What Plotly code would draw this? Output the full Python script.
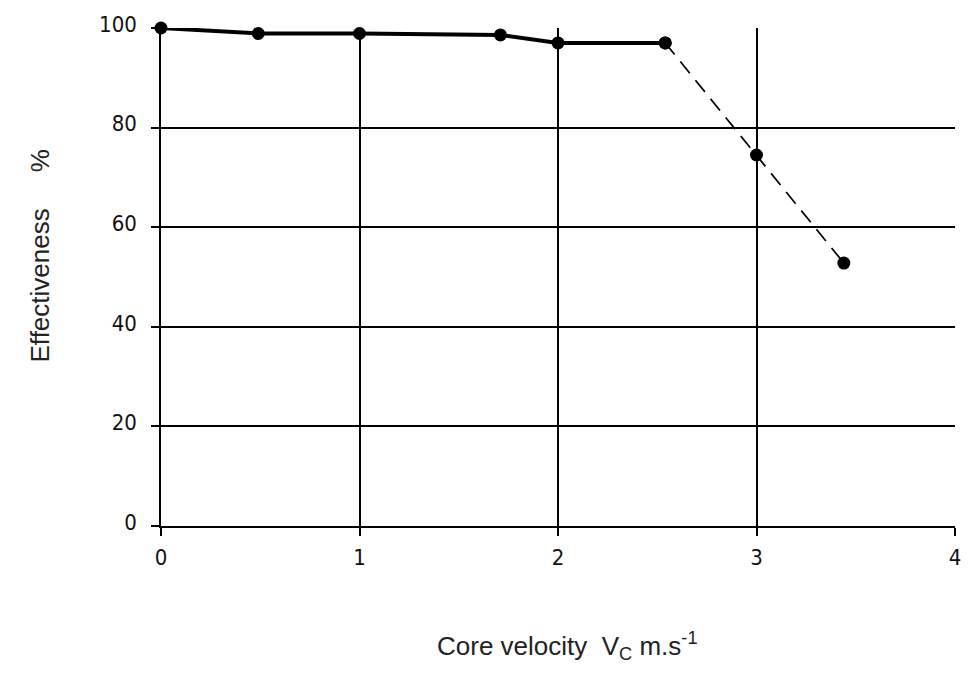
import plotly.graph_objects as go

solid_x = [0, 0.49, 1.0, 1.71, 2.0, 2.54]
solid_y = [100, 98.9, 98.9, 98.6, 97.0, 97.0]
dash_x = [2.54, 3.0, 3.44]
dash_y = [97.0, 74.5, 52.8]
x_ticks = [0, 1, 2, 3, 4]
y_ticks = [0, 20, 40, 60, 80, 100]

tick_font = dict(family="Liberation Sans Narrow, DejaVu Sans Condensed, sans-serif", size=22, color="#111")
title_font = dict(family="Liberation Sans, Arial, sans-serif", size=26, color="#222")

fig = go.Figure()
fig.add_trace(go.Scatter(x=dash_x, y=dash_y, mode="lines+markers", cliponaxis=False,
                         line=dict(color="black", width=1.7, dash="15px,9px"),
                         marker=dict(size=13, color="black"), showlegend=False))
fig.add_trace(go.Scatter(x=solid_x, y=solid_y, mode="lines+markers", cliponaxis=False,
                         line=dict(color="black", width=4),
                         marker=dict(size=13, color="black"), showlegend=False))

fig.update_xaxes(range=[0, 4], tickvals=x_ticks, ticktext=[str(v) for v in x_ticks],
                 showgrid=True, gridcolor="black", gridwidth=1.5,
                 showline=True, linecolor="black", linewidth=1.5, mirror=False,
                 ticks="outside", ticklen=8, tickwidth=1.5, tickcolor="black",
                 tickfont=tick_font, ticklabelstandoff=3, zeroline=False)
fig.update_yaxes(range=[0, 100], tickvals=y_ticks, ticktext=[str(v) for v in y_ticks],
                 showgrid=True, gridcolor="black", gridwidth=1.5,
                 showline=True, linecolor="black", linewidth=1.5,
                 ticks="outside", ticklen=8, tickwidth=1.5, tickcolor="black",
                 tickfont=tick_font, ticklabelstandoff=10, ticklabelshift=-4, zeroline=False)

fig.add_annotation(text="Core velocity  V<sub>C</sub> m.s<sup>-1</sup>", xref="paper", yref="paper",
                   x=(570 - 161) / 798, y=-(667 - 526.5) / 498.5, showarrow=False,
                   font=title_font)
fig.add_annotation(text="Effectiveness     %", xref="paper", yref="paper", textangle=-90,
                   x=-(161 - 22) / 798, y=(526.5 - 256) / 498.5, showarrow=False,
                   font=title_font)

fig.update_layout(width=973, height=690, margin=dict(l=161, r=14, t=28, b=164),
                  plot_bgcolor="white", paper_bgcolor="white")
fig.write_html("out.html")
